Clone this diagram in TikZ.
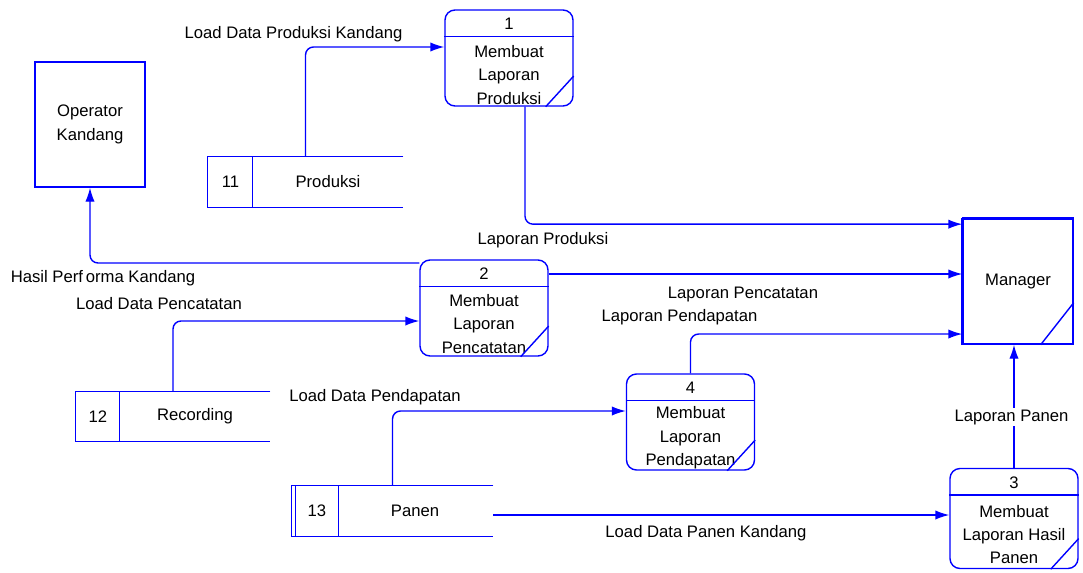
\documentclass[tikz,border=0pt]{standalone}
\usepackage{fontspec}
\setmainfont{Liberation Sans}
\usetikzlibrary{arrows.meta}
\tikzset{procbox/.style={
    rectangle,
    draw=blue,
    line width=1.05pt,
    rounded corners=7.5pt,
    minimum width=96pt,
    minimum height=72pt,
    inner sep=0pt
  },
  extbox/.style={rectangle,draw=blue,line width=1.05pt,
    minimum width=82.5pt,minimum height=93.75pt,align=center,inner sep=0pt},
  storebox/.style={rectangle,minimum height=37.5pt,inner sep=0pt},
  bodytext/.style={align=center,inner sep=0pt},
  lbl/.style={inner sep=1pt,fill=white},
  edge/.style={draw=blue,line width=1.05pt},
  flow/.style={edge,rounded corners=6pt},
  >={Latex[length=10.5pt,width=7pt]}
}
\begin{document}
\begin{tikzpicture}[x=0.75pt,y=-0.75pt,font=\fontsize{12.5}{17.5}\selectfont]
  \useasboundingbox (0,0) rectangle (1083,572);
  \node [extbox] (op) at (90,124.5) {Operator\\Kandang};
  \node [extbox] (mgr) at (1018,281.5) {Manager};
  \draw[edge,line width=2.4pt] (mgr.north west) -- (mgr.north east);
  \draw[edge,line width=1.8pt] (mgr.north west) -- (mgr.south west);
  \draw[edge] ([xshift=-24.75pt]mgr.south east) -- ([yshift=31.5pt]mgr.south east);

  \node [procbox] (p1) at (509,58) {};
  \node at ([yshift=-11pt]p1.north) {1};
  \node [bodytext] at ([yshift=-12.75pt]p1.center) {Membuat\\Laporan\\Produksi};
  \node [procbox] (p2) at (484,308) {};
  \node at ([yshift=-11pt]p2.north) {2};
  \node [bodytext] at ([yshift=-12pt]p2.center) {Membuat\\Laporan\\Pencatatan};
  \node [procbox,minimum height=75pt] (p3) at (1014,518.5) {};
  \node at ([yshift=-11pt]p3.north) {3};
  \node [bodytext] at ([yshift=-12pt]p3.center) {Membuat\\Laporan Hasil\\Panen};
  \node [procbox] (p4) at (690.5,422) {};
  \node at ([yshift=-11pt]p4.north) {4};
  \node [bodytext] at ([yshift=-12pt]p4.center) {Membuat\\Laporan\\Pendapatan};
  \foreach \p in {p1,p2,p3,p4} {
    \draw[edge] ([yshift=-20.5pt]\p.north west) -- ([yshift=-20.5pt]\p.north east);
    \draw[edge] ([xshift=-21pt]\p.south east) -- ([yshift=23pt]\p.south east);
  }

  \node [storebox,minimum width=146.25pt] (s11) at (305.5,182) {};
  \node [storebox,minimum width=145.5pt] (s12) at (173,416.5) {};
  \node [storebox,minimum width=150.75pt] (s13) at (392.5,511) {};
  \foreach \s/\d in {s11/33.75pt,s12/33pt,s13/35.25pt} {
    \draw[edge] (\s.north east) -- (\s.north west) -- (\s.south west) -- (\s.south east);
    \draw[edge] ([xshift=\d]\s.north west) -- ([xshift=\d]\s.south west);
  }
  \draw[edge] ([xshift=3pt]s13.north west) -- ([xshift=3pt]s13.south west);
  \node at (230.5,182) {11};
  \node at (328,182) {Produksi};
  \node at (98,416.5) {12};
  \node at (195,416.5) {Recording};
  \node at (317,511) {13};
  \node at (415,511) {Panen};

  \draw[flow,->] (s11.north) |- ([yshift=8.25pt]p1.west);
  \draw[flow,->] ([xshift=12pt]p1.south) |- ([yshift=43pt]mgr.west);
  \draw[flow,->] ([yshift=33.75pt]p2.west) -| (op.south);
  \draw[flow,->] ([yshift=25.5pt]p2.east) -- ([yshift=25.5pt]p2.east -| mgr.west);
  \draw[flow,->] (s12.north) |- ([yshift=-9.75pt]p2.west);
  \draw[flow,->] (p4.north) |- ([yshift=-39.4pt]mgr.west);
  \draw[flow,->] (s13.north) |- ([yshift=8.25pt]p4.west);
  \draw[flow,->] ([yshift=-3pt]s13.east) -- ([yshift=-3pt]s13.east -| p3.west);
  \draw[flow,->] (p3.north) -- (p3.north |- mgr.south);

  \node [lbl] (l1) at (293.5,34) {Load Data Produksi Kandang};
  \node [lbl] (l2) at (543,240) {Laporan Produksi};
  \node [lbl] (l3) at (103,278) {Hasil Perf\,orma Kandang};
  \node [lbl] (l4) at (159,304) {Load Data Pencatatan};
  \node [lbl] (l5) at (743,294) {Laporan Pencatatan};
  \node [lbl] (l6) at (679.5,317) {Laporan Pendapatan};
  \node [lbl] (l7) at (375,397) {Load Data Pendapatan};
  \node [lbl] (l8) at (706,533) {Load Data Panen Kandang};
  \node [lbl] (l9) at (1011.5,417) {Laporan Panen};
\end{tikzpicture}
\end{document}
